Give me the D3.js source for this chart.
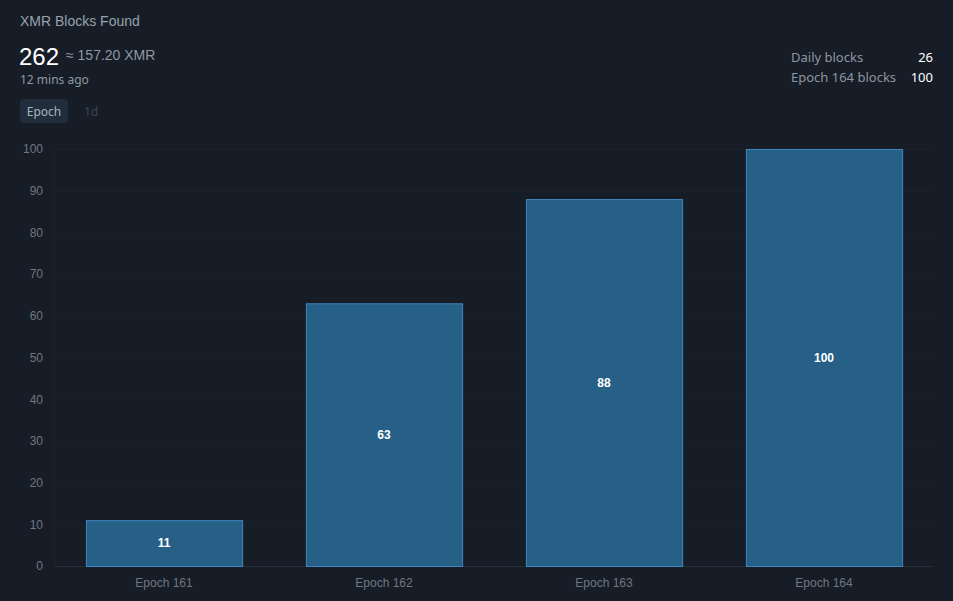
<!DOCTYPE html>
<html>
<head>
<meta charset="utf-8">
<script src="https://cdn.jsdelivr.net/npm/d3@7"></script>
<style>
  html, body { margin: 0; padding: 0; background: #161d27; }
  svg { display: block; }
</style>
</head>
<body>
<svg id="mount" width="953" height="601"></svg>
<script>
var epochs = ["Epoch 161", "Epoch 162", "Epoch 163", "Epoch 164"];
var blocks = [11, 63, 88, 100];
var yTicks = [0, 10, 20, 30, 40, 50, 60, 70, 80, 90, 100];
var statLabels = ["Daily blocks", "Epoch 164 blocks"];
var statValues = [26, 100];

var colorBg = "#161d27";
var colorBar = "#266087";
var colorBarEdge = "#3d86bf";
var colorGrid = "#1b222c";
var colorAxisText = "#6e7782";
var sans = "'Liberation Sans', Arial, sans-serif";
var ui = "'Noto Sans', 'Open Sans', sans-serif";

var svg = d3.select("#mount");
svg.append("rect").attr("width", 953).attr("height", 601).attr("fill", colorBg);

// Header
svg.append("text").attr("x", 20).attr("y", 26)
  .attr("fill", "#98a1ab").style("font", "14px " + sans)
  .text("XMR Blocks Found");
svg.append("text").attr("x", 19).attr("y", 65)
  .attr("fill", "#ffffff").style("font", "24px " + sans)
  .text("262");
svg.append("text").attr("x", 66).attr("y", 60)
  .attr("fill", "#8f98a3").style("font", "14px " + sans)
  .text("≈ 157.20 XMR");
svg.append("text").attr("x", 20).attr("y", 84)
  .attr("fill", "#8f98a3").style("font", "12px " + ui)
  .text("12 mins ago");

// Toggle buttons
svg.append("rect").attr("x", 20).attr("y", 99).attr("width", 48).attr("height", 24)
  .attr("rx", 4).attr("fill", "#222d3b");
svg.append("text").attr("x", 44).attr("y", 116).attr("text-anchor", "middle")
  .attr("fill", "#aab4c0").style("font", "12px " + ui).text("Epoch");
svg.append("text").attr("x", 91).attr("y", 116).attr("text-anchor", "middle")
  .attr("fill", "#3b4553").style("font", "12px " + ui).text("1d");

// Stats at top right
statLabels.forEach(function(label, i) {
  var y = 62 + i * 20;
  svg.append("text").attr("x", 791).attr("y", y)
    .attr("fill", "#8d96a1").style("font", "13px " + ui).text(label);
  svg.append("text").attr("x", 933).attr("y", y).attr("text-anchor", "end")
    .attr("fill", "#ffffff").style("font", "13px " + ui).text(statValues[i]);
});

// Chart
var margin = { top: 149, right: 19, bottom: 35, left: 54 };
var width = 953 - margin.left - margin.right;

var g = svg.append("g")
  .attr("transform", "translate(" + margin.left + "," + margin.top + ")");

var xScale = d3.scaleBand().domain(epochs).range([0, width]).padding(0);
var yScale = d3.scaleLinear().domain([0, 100]).range([417, 0]);
var barWidth = xScale.bandwidth() * 0.71;

// grid
g.append("g")
  .selectAll("line")
  .data(yTicks)
  .join("line")
  .attr("x1", 0).attr("x2", width)
  .attr("y1", function(d) { return yScale(d) + 0.5; })
  .attr("y2", function(d) { return yScale(d) + 0.5; })
  .attr("stroke", function(d) { return d === 0 ? "#252d38" : colorGrid; });

g.append("line")
  .attr("x1", 0.5).attr("x2", 0.5)
  .attr("y1", yScale(100)).attr("y2", yScale(0))
  .attr("stroke", colorGrid);

// y axis
var yAxis = g.append("g")
  .call(d3.axisLeft(yScale).tickValues(yTicks).tickSize(0).tickPadding(11));
yAxis.select(".domain").remove();
yAxis.selectAll("text")
  .attr("fill", colorAxisText).style("font", "12px " + sans);

// x axis
var xAxis = g.append("g")
  .attr("transform", "translate(0," + yScale(0) + ")")
  .call(d3.axisBottom(xScale).tickSize(0).tickPadding(12));
xAxis.select(".domain").remove();
xAxis.selectAll("text")
  .attr("fill", colorAxisText).style("font", "12px " + sans);

// bars
g.append("g")
  .selectAll("rect")
  .data(epochs)
  .join("rect")
  .attr("x", function(d) { return xScale(d) + (xScale.bandwidth() - barWidth) / 2 + 0.5; })
  .attr("y", function(d, i) { return yScale(blocks[i]) + 0.5; })
  .attr("width", barWidth)
  .attr("height", function(d, i) { return yScale(0) - yScale(blocks[i]); })
  .attr("fill", colorBar)
  .attr("stroke", colorBarEdge)
  .attr("stroke-width", 1);

// bar labels
g.append("g")
  .selectAll("text")
  .data(epochs)
  .join("text")
  .attr("x", function(d) { return xScale(d) + xScale.bandwidth() / 2; })
  .attr("y", function(d, i) { return (yScale(blocks[i]) + yScale(0)) / 2; })
  .attr("dy", "0.35em")
  .attr("text-anchor", "middle")
  .attr("fill", "#ffffff")
  .style("font", "bold 12px " + sans)
  .text(function(d, i) { return blocks[i]; });
</script>
</body>
</html>
